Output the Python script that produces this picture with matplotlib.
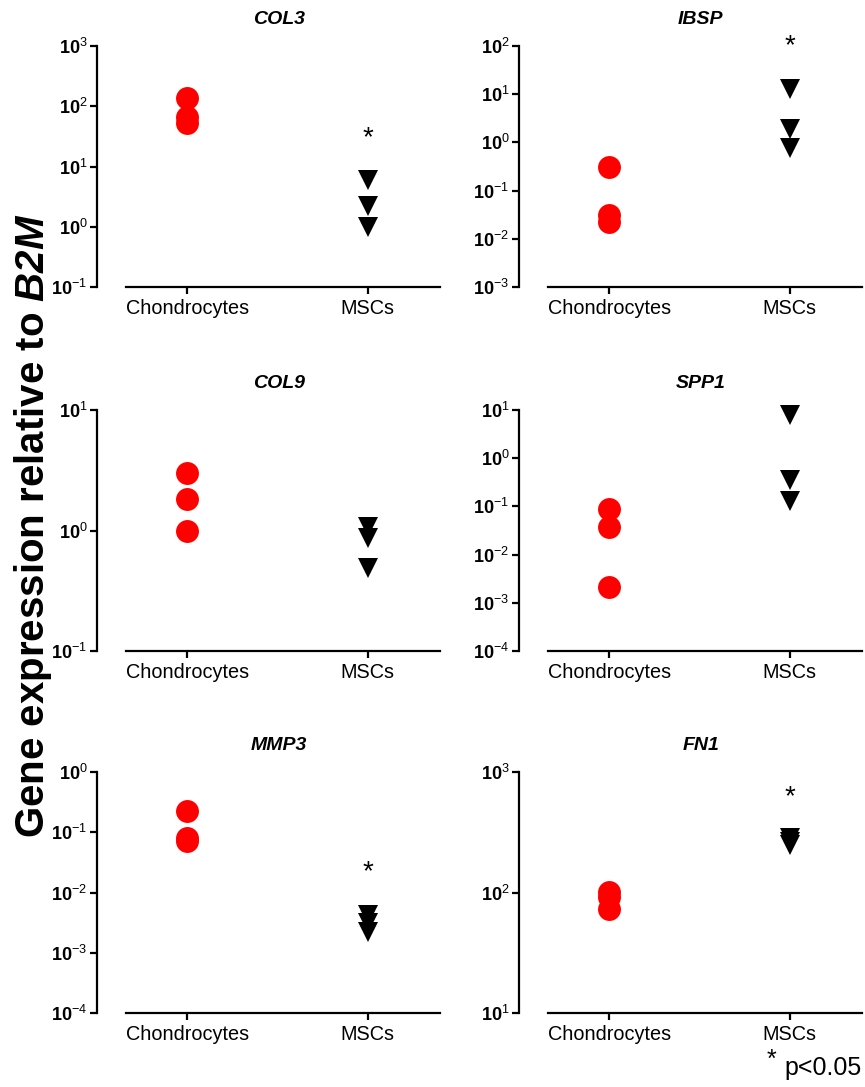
import matplotlib
matplotlib.use('Agg')
import matplotlib.pyplot as plt
from matplotlib.ticker import FixedLocator, NullLocator

plt.rcParams['font.family'] = ['Liberation Sans', 'DejaVu Sans']
plt.rcParams['mathtext.fontset'] = 'custom'
plt.rcParams['mathtext.rm'] = 'Liberation Sans'
plt.rcParams['mathtext.bf'] = 'Liberation Sans:bold'
plt.rcParams['mathtext.it'] = 'Liberation Sans:italic'
plt.rcParams['mathtext.bfit'] = 'Liberation Sans:bold:italic'

# Data (expression relative to B2M)
genes = ['COL3', 'IBSP', 'COL9', 'SPP1', 'MMP3', 'FN1']
groups = ['Chondrocytes', 'MSCs']
chondro = [[138, 67, 53],
           [0.31, 0.031, 0.022],
           [3.0, 1.84, 1.0],
           [0.089, 0.037, 0.0021],
           [0.225, 0.080, 0.072],
           [101, 92, 73]]
mscs = [[5.9, 2.2, 1.0],
        [13, 1.9, 0.77],
        [1.06, 0.87, 0.49],
        [7.9, 0.35, 0.13],
        [0.0042, 0.0031, 0.0022],
        [286, 263, 250]]
# log10 of y-axis limits for each gene
exp_lo = [-1, -3, -1, -4, -4, 1]
exp_hi = [3, 2, 1, 1, 0, 3]
# significance stars (None = not significant)
star_y = [36, 127, None, None, 0.0266, 682]

W, H = 865, 1087
fig = plt.figure(figsize=(W / 100, H / 100), dpi=100)

col_left = [97, 519]
row_top = [46, 410, 772]
ax_w, ax_h = 343, 241

for i, gene in enumerate(genes):
    r, c = divmod(i, 2)
    left = col_left[c] / W
    bottom = 1 - (row_top[r] + ax_h) / H
    ax = fig.add_axes([left, bottom, ax_w / W, ax_h / H])

    ax.plot([0] * len(chondro[i]), chondro[i], 'o', color='#ff0000',
            markersize=16.5, markeredgewidth=0, clip_on=False, zorder=3)
    ax.plot([1] * len(mscs[i]), mscs[i], 'v', color='black',
            markersize=15, markeredgewidth=0, clip_on=False, zorder=3)

    ax.set_yscale('log')
    ax.set_ylim(10.0 ** exp_lo[i], 10.0 ** exp_hi[i])
    ax.set_xlim(-0.5, 1.4)
    exps = list(range(exp_lo[i], exp_hi[i] + 1))
    ax.yaxis.set_major_locator(FixedLocator([10.0 ** e for e in exps]))
    ax.yaxis.set_minor_locator(NullLocator())
    ax.set_yticklabels([r'$\mathbf{10}^{%d}$' % e for e in exps], fontsize=13)
    ax.set_xticks([0, 1])
    ax.set_xticklabels(groups, fontsize=14.3)

    for s in ['top', 'right']:
        ax.spines[s].set_visible(False)
    ax.spines['left'].set_linewidth(1.6)
    ax.spines['bottom'].set_linewidth(1.6)
    ax.spines['bottom'].set_bounds(-0.34, 1.4)
    ax.tick_params(axis='both', direction='out', length=5, width=1.6)
    ax.tick_params(axis='y', pad=2)
    ax.tick_params(axis='x', pad=4)

    ax.text(0.53, 1.108, gene, transform=ax.transAxes, ha='center',
            va='center', fontsize=14, fontweight='bold', fontstyle='italic')

    if star_y[i] is not None:
        ax.annotate('*', xy=(1, star_y[i]), xytext=(0, -4),
                    textcoords='offset points', ha='center', va='center',
                    fontsize=20, annotation_clip=False)

fig.text(33 / W, 1 - 526 / H, r'Gene expression relative to $\mathbfit{B2M}$',
         rotation=90, ha='center', va='center', fontsize=29, fontweight='bold')

fig.text(771 / W, 1 - 1060 / H, '*', ha='center', va='center', fontsize=18)
fig.text(784 / W, 1 - 1075 / H, 'p<0.05', ha='left', va='baseline', fontsize=18)

fig.savefig('out.png', dpi=100)
